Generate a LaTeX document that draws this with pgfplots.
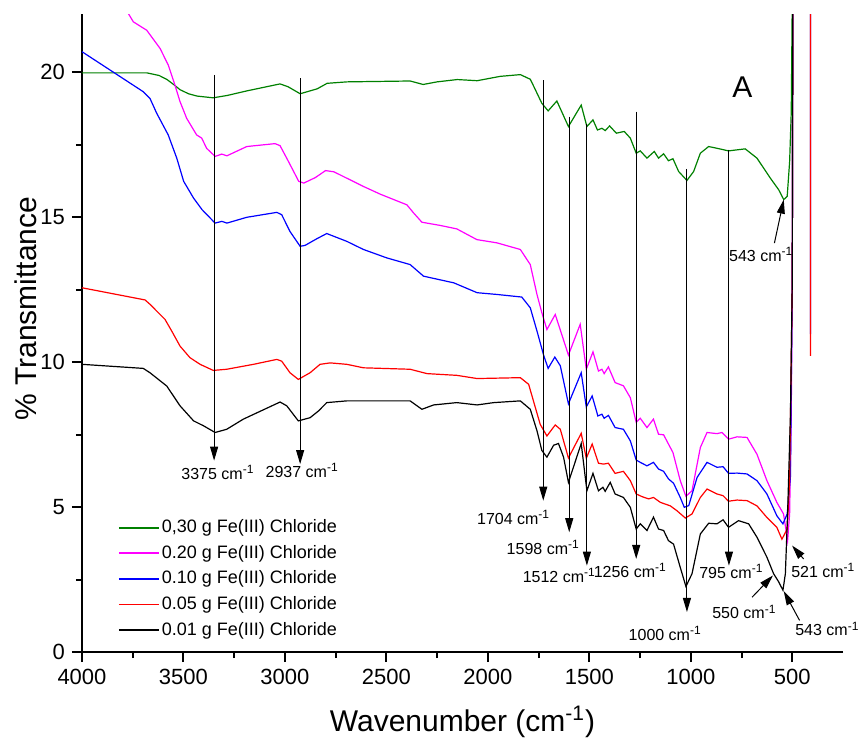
\documentclass[border=0pt]{standalone}
\usepackage{pgfplots}
\pgfplotsset{compat=1.18}
\usepackage{fontspec}
\setmainfont{Liberation Sans}
\usetikzlibrary{arrows.meta}
\definecolor{cgreen}{RGB}{0,128,0}
\definecolor{cpink}{RGB}{255,0,255}
\definecolor{cblue}{RGB}{0,0,255}
\definecolor{cred}{RGB}{255,0,0}
\newcommand{\lab}[1]{#1 cm\textsuperscript{-1}}
\begin{document}
\begin{tikzpicture}
\begin{axis}[
  scale only axis, width=380.5pt, height=319pt,
  x dir=reverse, xmin=250, xmax=4000, ymin=0, ymax=22,
  axis x line*=bottom, axis y line*=left,
  axis line style={-, line width=1pt},
  xtick={500,1000,...,4000}, minor x tick num=1,
  ytick={0,5,10,15,20}, minor y tick num=1,
  tick align=outside, major tick length=5pt, minor tick length=3pt,
  every tick/.style={line width=1pt, black},
  /pgf/number format/assume math mode=true,
  /pgf/number format/1000 sep={},
  tick label style={font=\fontsize{11}{13}\selectfont},
  xlabel={Wavenumber (cm\textsuperscript{-1})},
  ylabel={\% Transmittance},
  label style={font=\fontsize{15}{17}\selectfont},
  xlabel style={at={(axis description cs:0.5,-0.1097)}, anchor=center},
  ylabel style={at={(axis description cs:-0.0736,0.538)}, anchor=center},
  clip mode=individual,
  legend cell align=left,
  legend style={draw=none, fill=none, at={(axis description cs:0.039,0.219)}, anchor=north west,
    font=\fontsize{9}{10}\selectfont, row sep=1.8pt,
    nodes={inner sep=1pt, text height=7pt, text depth=2pt}},
  legend image code/.code={\draw[#1, line width=0.9pt] (0pt,0pt) -- (20pt,0pt);},
  every axis plot/.append style={line width=0.6pt, mark=none},
]
% 0.30 g
\addplot[cgreen] coordinates {
(4000,19.97)(3680,19.97)(3620,19.88)(3581,19.74)(3545,19.55)(3517,19.39)(3475,19.25)(3433,19.17)(3354,19.11)(3285,19.19)(3187,19.35)
(3024,19.59)(2984,19.49)(2925,19.25)(2841,19.42)(2792,19.61)(2694,19.66)(2383,19.69)(2319,19.57)
(2250,19.66)(2151,19.74)(2053,19.70)(1939,19.85)(1840,19.91)(1791,19.75)(1777,19.55)(1734,18.92)
(1703,18.66)(1660,19.00)(1603,18.12)(1540,18.86)(1512,18.12)(1482,18.35)(1460,18.00)(1438,18.06)
(1422,17.98)(1400,18.14)(1367,17.89)(1328,17.95)(1298,17.72)(1269,17.20)(1249,17.28)(1216,17.03)
(1180,17.26)(1159,17.03)(1134,17.18)(1110,16.94)(1088,17.01)(1060,16.57)(1019,16.26)(986,16.57)
(953,17.20)(912,17.43)(871,17.37)(814,17.28)(732,17.35)(674,17.03)(608,16.34)(567,15.94)
(542,15.60)(525,15.71)(513,16.91)(505,18.62)(500,22.5)(495,30)};
\addlegendentry{0,30 g Fe(III) Chloride}
% 0.20 g
\addplot[cpink] coordinates {
(3813,22.5)(3747,21.73)(3681,21.44)(3615,20.81)(3575,20.24)(3542,19.55)(3517,18.98)(3484,18.40)
(3435,17.83)(3410,17.72)(3386,17.37)(3344,17.09)(3311,17.17)(3286,17.11)(3188,17.43)(3049,17.53)
(3024,17.46)(2983,16.92)(2932,16.23)(2907,16.17)(2850,16.36)(2800,16.60)(2759,16.56)(2612,16.05)
(2531,15.79)(2399,15.42)(2366,15.14)(2325,14.82)(2235,14.71)(2153,14.59)(2054,14.22)(1956,14.11)
(1840,13.88)(1791,13.36)(1758,12.33)(1734,11.70)(1709,11.12)(1668,11.64)(1603,10.24)(1545,11.30)
(1515,9.75)(1482,10.35)(1455,9.69)(1438,9.75)(1427,9.60)(1406,9.83)(1373,9.29)(1332,9.18)
(1298,8.77)(1269,7.92)(1249,8.06)(1216,7.74)(1184,8.03)(1159,7.51)(1134,7.49)(1110,7.17)
(1088,6.88)(1052,5.91)(1024,5.37)(994,5.56)(953,7.05)(920,7.57)(871,7.53)(846,7.57)
(814,7.34)(772,7.42)(723,7.40)(674,6.82)(625,5.91)(576,5.16)(543,4.76)(523,3.84)
(513,4.76)(505,8.21)(500,12.79)(495,30)};
\addlegendentry{0.20 g Fe(III) Chloride}
% 0.10 g
\addplot[cblue] coordinates {
(4000,20.70)(3698,19.32)(3665,19.09)(3632,18.58)(3575,17.83)(3533,17.03)(3499,16.23)(3450,15.65)
(3408,15.25)(3344,14.79)(3311,14.85)(3286,14.79)(3188,14.99)(3040,15.16)(3016,15.08)(2975,14.50)
(2925,13.99)(2901,14.02)(2843,14.25)(2794,14.43)(2695,14.16)(2613,13.88)(2498,13.59)(2383,13.36)
(2317,12.96)(2168,12.73)(2053,12.39)(1956,12.33)(1833,12.24)(1791,11.87)(1758,11.07)(1725,10.23)
(1703,9.78)(1670,10.17)(1643,9.87)(1603,8.56)(1540,9.63)(1515,8.45)(1486,8.83)(1458,8.14)
(1438,8.20)(1427,8.06)(1406,8.16)(1373,7.74)(1332,7.68)(1298,7.28)(1269,6.62)(1249,6.54)
(1216,6.42)(1184,6.54)(1159,6.31)(1134,6.23)(1110,5.97)(1085,5.82)(1052,5.33)(1032,4.99)
(1010,5.05)(969,6.02)(920,6.54)(871,6.37)(841,6.39)(814,6.16)(772,6.17)(723,6.14)
(674,5.91)(625,5.45)(576,4.70)(546,4.42)(525,4.76)(509,6.05)(500,12.79)(495,30)
(411,30)(410,10.96)};
\addlegendentry{0.10 g Fe(III) Chloride}
% 0.05 g
\addplot[cred] coordinates {
(4000,12.56)(3689,12.14)(3665,11.99)(3591,11.47)(3558,11.07)(3517,10.55)(3468,10.15)(3418,9.92)
(3353,9.71)(3287,9.75)(3155,9.92)(3040,10.09)(3016,10.03)(2975,9.63)(2934,9.40)(2876,9.63)
(2827,9.92)(2777,9.97)(2695,9.92)(2613,9.80)(2383,9.75)(2300,9.60)(2153,9.54)(2053,9.43)
(1840,9.46)(1799,9.23)(1766,8.43)(1742,7.85)(1709,7.45)(1668,7.83)(1643,7.68)(1603,6.69)
(1540,7.54)(1515,6.68)(1486,7.17)(1455,6.51)(1430,6.48)(1406,6.51)(1373,6.16)(1332,6.23)
(1298,5.91)(1269,5.45)(1241,5.36)(1208,5.28)(1184,5.33)(1150,5.16)(1101,5.04)(1068,4.87)
(1027,4.62)(994,4.76)(953,5.33)(920,5.62)(871,5.45)(841,5.39)(814,5.20)(772,5.24)
(723,5.22)(674,5.04)(625,4.64)(576,4.30)(551,3.89)(525,4.24)(513,5.91)(500,12.79)(495,30)
(411,30)(410,10.21)};
\addlegendentry{0.05 g Fe(III) Chloride}
% 0.01 g
\addplot[black] coordinates {
(4000,9.92)(3698,9.78)(3665,9.63)(3582,9.17)(3517,8.49)(3450,7.97)(3401,7.80)(3344,7.57)
(3287,7.68)(3205,8.03)(3024,8.62)(2991,8.49)(2934,7.97)(2876,8.08)(2835,8.31)(2794,8.60)
(2695,8.66)(2383,8.66)(2325,8.37)(2267,8.52)(2153,8.60)(2053,8.52)(1971,8.60)(1840,8.66)
(1791,8.37)(1758,7.63)(1734,6.95)(1709,6.72)(1676,7.13)(1652,7.19)(1627,6.72)(1603,5.85)
(1540,7.19)(1512,5.56)(1482,6.16)(1455,5.56)(1433,5.68)(1422,5.54)(1397,5.85)(1373,5.45)
(1332,5.33)(1298,4.99)(1269,4.24)(1249,4.42)(1216,4.19)(1184,4.65)(1159,4.24)(1134,4.19)
(1110,3.84)(1085,3.72)(1052,2.92)(1024,2.26)(994,2.70)(953,4.07)(912,4.44)(871,4.42)
(841,4.56)(814,4.30)(765,4.53)(715,4.42)(674,3.96)(625,3.27)(592,2.70)(567,2.42)
(546,2.13)(534,2.70)(523,4.77)(509,8.19)(500,12.79)(495,30)};
\addlegendentry{0.01 g Fe(III) Chloride}
% annotations
\begin{scope}[line width=0.5pt, -{Triangle[length=7pt,width=4pt]}]
\draw (axis cs:3349,19.90) -- (axis cs:3349,6.60);
\draw (axis cs:2925,19.78) -- (axis cs:2925,6.48);
\draw (axis cs:1727,19.72) -- (axis cs:1727,5.22);
\draw (axis cs:1599,18.46) -- (axis cs:1599,4.13);
\draw (axis cs:1512,18.20) -- (axis cs:1512,2.98);
\draw (axis cs:1269,18.63) -- (axis cs:1269,3.21);
\draw (axis cs:1019,16.66) -- (axis cs:1019,1.38);
\draw (axis cs:812,17.32) -- (axis cs:812,2.98);
\draw (axis cs:588,14.10) -- (axis cs:542,15.60);
\draw (axis cs:444,3.21) -- (axis cs:501,3.67);
\draw (axis cs:698,1.89) -- (axis cs:595,2.64);
\draw (axis cs:464,1.09) -- (axis cs:542,2.10);
\end{scope}
\begin{scope}[every node/.style={font=\fontsize{8}{9}\selectfont, inner sep=0pt, anchor=center}]
\node at (axis cs:3330,6.19) {\lab{3375}};
\node at (axis cs:2915,6.25) {\lab{2937}};
\node at (axis cs:1873,4.64) {\lab{1704}};
\node at (axis cs:1727,3.61) {\lab{1598}};
\node at (axis cs:1648,2.64) {\lab{1512}};
\node at (axis cs:1298,2.81) {\lab{1256}};
\node at (axis cs:1126,0.63) {\lab{1000}};
\node at (axis cs:800,2.78) {\lab{795}};
\node at (axis cs:653,13.70) {\lab{543}};
\node at (axis cs:347,2.81) {\lab{521}};
\node at (axis cs:736,1.38) {\lab{550}};
\node at (axis cs:327,0.80) {\lab{543}};
\end{scope}
\node[font=\fontsize{15}{17}\selectfont, anchor=center] at (axis cs:746,19.49) {A};
\end{axis}
\pgfresetboundingbox
\path[use as bounding box] ([xshift=-41pt,yshift=-44.5pt]current axis.south west) rectangle ([xshift=8pt,yshift=7pt]current axis.north east);
\end{tikzpicture}
\end{document}
